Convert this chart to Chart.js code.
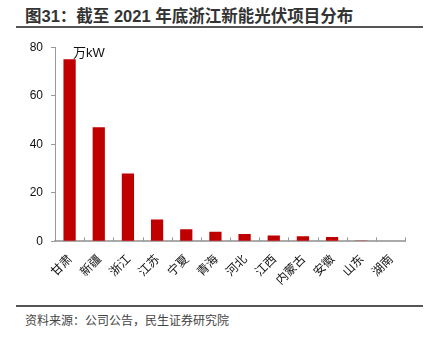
<!DOCTYPE html>
<html lang="zh">
<head>
    <meta charset="UTF-8">
    <script src="https://cdn.jsdelivr.net/npm/chart.js"></script>
    <title>图31</title>
    <style>
        * { margin: 0; padding: 0; box-sizing: border-box; }
        body { width: 433px; height: 341px; background: #fff; position: relative; overflow: hidden;
               font-family: "Liberation Sans", "Noto Sans CJK SC", sans-serif; }
        #title { position: absolute; left: 25px; top: 3px; font-size: 16.5px; font-weight: bold; color: #333;
                 font-family: "Liberation Sans", "Noto Sans CJK SC", sans-serif; white-space: nowrap; }
        .rule { position: absolute; left: 16px; width: 407px; height: 2px; background: #555; }
        #box { position: absolute; left: 0; top: 32px; width: 433px; height: 257px; }
        #source { position: absolute; left: 25px; top: 311px; font-size: 12px; color: #444;
                  font-family: "Noto Sans CJK SC", sans-serif; white-space: nowrap; }
    </style>
</head>
<body>
    <div id="title">图31：截至 2021 年底浙江新能光伏项目分布</div>
    <div class="rule" style="top:26px"></div>
    <div id="box"><canvas id="chart"></canvas></div>
    <div class="rule" style="top:305px"></div>
    <div id="source">资料来源：公司公告，民生证券研究院</div>
<script>
    const provinces = ['甘肃', '新疆', '浙江', '江苏', '宁夏', '青海', '河北', '江西', '内蒙古', '安徽', '山东', '湖南'];
    const capacity = [75, 47, 28, 9, 5, 4, 3, 2.4, 2.1, 1.8, 0.4, 0.3];
    const yTicks = [0, 20, 40, 60, 80];
    const unitLabel = '万kW';

    // inward tick marks on the x axis + unit label
    const extras = {
        id: 'extras',
        afterDraw(chart) {
            const ctx = chart.ctx;
            const x = chart.scales.x;
            const area = chart.chartArea;
            const half = (x.getPixelForValue(1) - x.getPixelForValue(0)) / 2;
            ctx.save();
            ctx.strokeStyle = '#999';
            ctx.lineWidth = 1;
            for (let i = 0; i <= provinces.length; i++) {
                const px = Math.round(x.getPixelForValue(i) - half) + 0.5;
                ctx.beginPath();
                ctx.moveTo(px, area.bottom);
                ctx.lineTo(px, area.bottom - 4);
                ctx.stroke();
            }
            ctx.fillStyle = '#111';
            ctx.font = '13px "Liberation Sans", "Noto Sans CJK SC", sans-serif';
            ctx.textBaseline = 'top';
            ctx.fillText(unitLabel, area.left + 18, area.top);
            ctx.restore();
        }
    };

    new Chart(document.getElementById('chart'), {
        type: 'bar',
        data: {
            labels: provinces,
            datasets: [{
                data: capacity,
                backgroundColor: '#C00000',
                barPercentage: 0.42,
                categoryPercentage: 1
            }]
        },
        options: {
            responsive: true,
            maintainAspectRatio: false,
            animation: false,
            layout: { padding: { left: 16, right: 28, top: 14, bottom: 0 } },
            plugins: { legend: { display: false }, tooltip: { enabled: false } },
            scales: {
                x: {
                    grid: { display: false },
                    border: { color: '#aaa', width: 2 },
                    ticks: {
                        color: '#111',
                        minRotation: 45,
                        maxRotation: 45,
                        padding: 2,
                        font: { size: 12, family: '"Noto Sans CJK SC", sans-serif' }
                    }
                },
                y: {
                    min: 0,
                    max: 80,
                    afterBuildTicks(axis) { axis.ticks = yTicks.map(v => ({ value: v })); },
                    afterFit(axis) { axis.width = 39; },
                    grid: { drawOnChartArea: false, drawTicks: true, tickLength: 4, color: '#999' },
                    border: { color: '#999', width: 1 },
                    ticks: {
                        color: '#111',
                        padding: 8,
                        font: { size: 12, family: '"Liberation Sans", sans-serif' }
                    }
                }
            }
        },
        plugins: [extras]
    });
</script>
</body>
</html>
